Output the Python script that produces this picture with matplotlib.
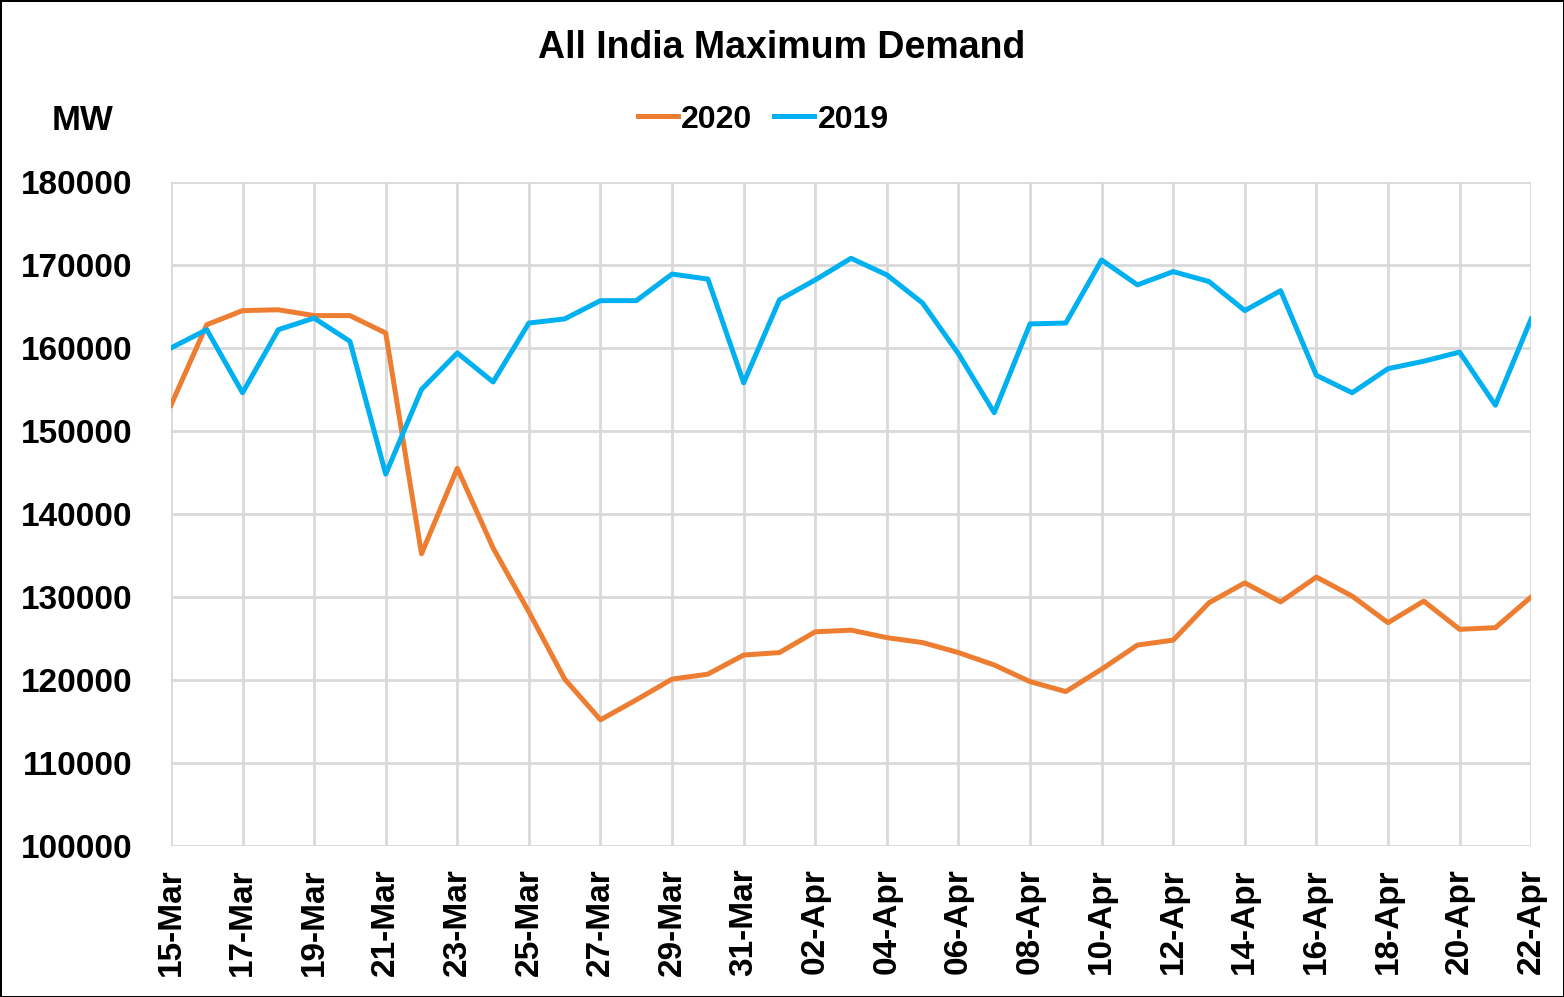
import numpy as np
import pandas as pd
import matplotlib.pyplot as plt

# categories: daily dates 15-Mar .. 22-Apr
dates = pd.date_range("2020-03-15", "2020-04-22").strftime("%d-%b").tolist()

demand_2020 = [153100, 162800, 164500, 164600, 163900, 163900, 161800, 135200,
               145500, 135900, 128200, 120100, 115200, 117600, 120100, 120700,
               123000, 123300, 125800, 126000, 125100, 124500, 123300, 121800,
               119800, 118600, 121300, 124200, 124800, 129300, 131700, 129400,
               132400, 130100, 126900, 129500, 126100, 126300, 130000]

demand_2019 = [160000, 162200, 154600, 162200, 163600, 160800, 144800, 155000,
               159400, 155900, 163000, 163500, 165700, 165700, 168900, 168300,
               155800, 165800, 168200, 170800, 168800, 165400, 159300, 152200,
               162900, 163000, 170600, 167600, 169200, 168000, 164500, 166900,
               156700, 154600, 157500, 158400, 159500, 153100, 163500]

plt.rcParams['font.family'] = ['Liberation Sans', 'DejaVu Sans']
plt.rcParams['font.weight'] = 'bold'

fig = plt.figure(figsize=(15.64, 9.97), dpi=100)
fig.patch.set_edgecolor('black')
fig.patch.set_linewidth(2)
ax = fig.add_axes([0.1093, 0.1515, 0.8697, 0.666])

x = np.arange(len(dates))
ax.plot(x, demand_2020, color='#ED7D31', lw=3.6, label='2020')
ax.plot(x, demand_2019, color='#00B0F0', lw=3.6, label='2019')

ax.set_xlim(0, len(dates) - 1)
ax.set_ylim(100000, 180000)
ax.set_yticks(np.arange(100000, 180001, 10000))
ax.set_xticks(x[::2])
ax.set_xticklabels(dates[::2], rotation=90, fontsize=24, fontweight='bold')
ax.tick_params(axis='y', labelsize=24, length=0, pad=28)
ax.tick_params(axis='x', length=0, pad=16)
for lab in ax.get_yticklabels():
    lab.set_fontweight('bold')

ax.grid(True, color='#d9d9d9', lw=2)
ax.set_axisbelow(True)
for s in ax.spines.values():
    s.set_visible(False)

fig.text(0.5, 0.952, 'All India Maximum Demand', ha='center', va='center',
         fontsize=27, fontweight='bold')
fig.text(0.053, 0.879, 'MW', ha='center', va='center', fontsize=25, fontweight='bold')
fig.legend(loc='center', bbox_to_anchor=(0.488, 0.880), ncol=2, frameon=False,
           fontsize=23, handlelength=1.25, handletextpad=0.1, columnspacing=0.7)

fig.savefig('out.png', dpi=100, edgecolor=fig.get_edgecolor())
